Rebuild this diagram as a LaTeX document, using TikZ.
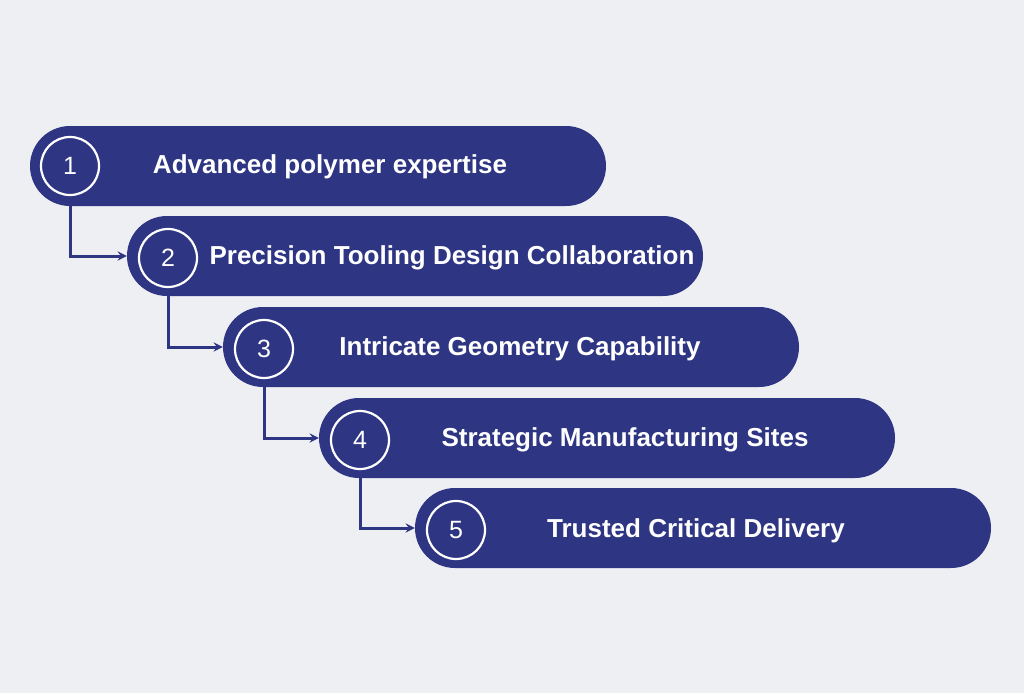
\documentclass[tikz,border=0pt]{standalone}
\usepackage{fontspec}
\setmainfont{Liberation Sans}
\definecolor{pillblue}{HTML}{2E3583}
\definecolor{bggray}{HTML}{EEEFF3}
\tikzset{
  pill/.style={fill=pillblue, rounded corners=40pt, minimum width=576pt, minimum height=80pt, inner sep=0pt},
  numcirc/.style={circle, draw=white, line width=2.2pt, minimum size=58pt, inner sep=0pt, text=white, font=\fontsize{25}{28}\selectfont},
  ptext/.style={text=white, font=\bfseries\fontsize{26}{30}\selectfont},
  link/.style={draw=pillblue, line width=3pt, -stealth}
}
\begin{document}
\begin{tikzpicture}[x=1pt,y=-1pt]
	\fill[bggray] (0,0) rectangle (1024,693);
	\useasboundingbox (0,0) rectangle (1024,693);
	% pills
	\node[pill] (p1) at (318,166) {};
	\node[pill] (p2) at (415,256) {};
	\node[pill] (p3) at (511,347) {};
	\node[pill] (p4) at (607,438) {};
	\node[pill] (p5) at (703,528) {};
	% numbers
	\node[numcirc] (c1) at (70,166) {1};
	\node[numcirc] (c2) at (168,258) {2};
	\node[numcirc] (c3) at (264,349) {3};
	\node[numcirc] (c4) at (360,440) {4};
	\node[numcirc] (c5) at (456,530) {5};
	% labels
	\node[ptext] (t1) at (330,167) {Advanced polymer expertise};
	\node[ptext] (t2) at (452,258) {Precision Tooling Design Collaboration};
	\node[ptext] (t3) at (520,349) {Intricate Geometry Capability};
	\node[ptext] (t4) at (625,440) {Strategic Manufacturing Sites};
	\node[ptext] (t5) at (696,531) {Trusted Critical Delivery};
	% connectors
	\draw[link] (c1.south |- p1.south) |- (p2.west);
	\draw[link] (c2.south |- p2.south) |- (p3.west);
	\draw[link] (c3.south |- p3.south) |- (p4.west);
	\draw[link] (c4.south |- p4.south) |- (p5.west);
\end{tikzpicture}
\end{document}
